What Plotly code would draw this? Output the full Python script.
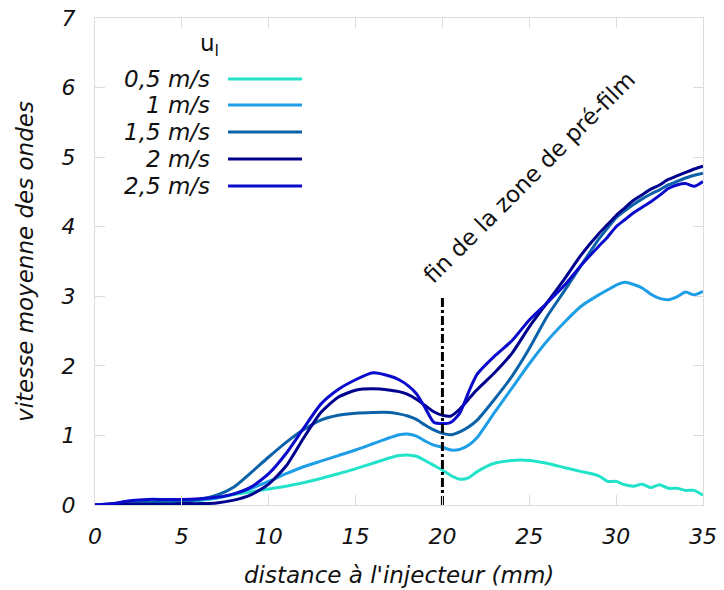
import plotly.graph_objects as go

# ---- data ----
x_mm = [0, 1, 2, 3, 4, 5, 6, 7, 8, 9, 10, 11, 12, 13, 14, 15, 16, 17,
        17.5, 18, 18.5, 19, 19.5, 20, 20.5, 21, 21.5, 22,
        23, 24, 25, 26, 27, 28, 29,
        29.5, 30, 30.5, 31, 31.5, 32, 32.5, 33, 33.5, 34, 34.5, 35]

v_05 = [0, 0.01, 0.03, 0.04, 0.05, 0.06, 0.07, 0.10, 0.15, 0.19, 0.23, 0.27, 0.32, 0.38, 0.45, 0.52, 0.60, 0.68,
        0.71, 0.72, 0.70, 0.64, 0.57, 0.50, 0.42, 0.37, 0.39, 0.48,
        0.60, 0.64, 0.64, 0.60, 0.54, 0.48, 0.42,
        0.34, 0.34, 0.29, 0.27, 0.30, 0.25, 0.29, 0.24, 0.24, 0.21, 0.21, 0.14]

v_1 = [0, 0.01, 0.02, 0.03, 0.04, 0.05, 0.07, 0.10, 0.16, 0.24, 0.34, 0.45, 0.55, 0.63, 0.71, 0.79, 0.88, 0.97,
       1.01, 1.02, 0.99, 0.92, 0.86, 0.83, 0.79, 0.80, 0.86, 0.97,
       1.33, 1.68, 2.03, 2.35, 2.62, 2.86, 3.02,
       3.09, 3.16, 3.20, 3.17, 3.12, 3.03, 2.97, 2.95, 2.99, 3.06, 3.02, 3.07]

v_15 = [0, 0.01, 0.03, 0.04, 0.05, 0.06, 0.08, 0.14, 0.26, 0.47, 0.69, 0.90, 1.08, 1.22, 1.29, 1.32, 1.33, 1.33,
        1.31, 1.28, 1.23, 1.15, 1.08, 1.03, 1.01, 1.05, 1.12, 1.22,
        1.52, 1.85, 2.25, 2.70, 3.07, 3.45, 3.82,
        3.98, 4.13, 4.23, 4.32, 4.40, 4.47, 4.53, 4.60, 4.65, 4.70, 4.74, 4.77]

v_2 = [0, 0.0, 0.01, 0.01, 0.01, 0.02, 0.02, 0.03, 0.07, 0.15, 0.30, 0.56, 0.96, 1.33, 1.55, 1.65, 1.67, 1.65,
       1.63, 1.59, 1.52, 1.43, 1.34, 1.29, 1.28, 1.38, 1.52, 1.66,
       1.90, 2.18, 2.56, 2.90, 3.24, 3.60, 3.90,
       4.03, 4.16, 4.27, 4.38, 4.46, 4.54, 4.60, 4.68, 4.73, 4.78, 4.83, 4.87]

v_25 = [0, 0.02, 0.06, 0.08, 0.08, 0.08, 0.09, 0.11, 0.16, 0.26, 0.45, 0.74, 1.10, 1.45, 1.66, 1.80, 1.90, 1.85,
        1.80, 1.72, 1.60, 1.40, 1.19, 1.17, 1.19, 1.32, 1.62, 1.88,
        2.14, 2.36, 2.66, 2.90, 3.15, 3.45, 3.72,
        3.85, 4.00, 4.10, 4.20, 4.28, 4.36, 4.45, 4.55, 4.60, 4.62, 4.58, 4.65]

series_names = ["0,5 m/s", "1 m/s", "1,5 m/s", "2 m/s", "2,5 m/s"]
series_values = [v_05, v_1, v_15, v_2, v_25]
series_colors = ["#22E3C9", "#1E9EE6", "#0B62A8", "#00008E", "#0A0ACC"]

prefilm_end_x = [20, 20]
prefilm_end_y = [0, 3.02]

x_ticks = [0, 5, 10, 15, 20, 25, 30, 35]
y_ticks = [0, 1, 2, 3, 4, 5, 6, 7]

FONT = "DejaVu Sans"
FS = 23
FT = 22

fig = go.Figure()
for name, vals, col in zip(series_names, series_values, series_colors):
    fig.add_trace(go.Scatter(x=x_mm, y=vals, mode="lines", name=name,
                             line=dict(color=col, width=3, shape="spline", smoothing=0.6),
                             showlegend=False, hoverinfo="skip"))

fig.add_trace(go.Scatter(x=prefilm_end_x, y=prefilm_end_y, mode="lines",
                         line=dict(color="black", width=3, dash="9px,3px,3px,3px"),
                         showlegend=False, hoverinfo="skip"))

# manual legend (text left of line)
leg_y = [0.8747, 0.8214, 0.7659, 0.7105, 0.655]
annotations = [dict(text="u<sub>l</sub>", x=0.189, y=0.9446, xref="paper", yref="paper",
                    showarrow=False, xanchor="center", yanchor="middle",
                    font=dict(family=FONT, size=FS, color="#111"))]
shapes = []
for name, col, yy in zip(series_names, series_colors, leg_y):
    annotations.append(dict(text=name, x=0.1924, y=yy, xref="paper", yref="paper",
                            showarrow=False, xanchor="right", yanchor="middle",
                            font=dict(family=FONT, size=FS, color="#111", style="italic")))
    shapes.append(dict(type="line", xref="paper", yref="paper", x0=0.2188, x1=0.3405,
                       y0=yy, y1=yy, line=dict(color=col, width=3)))

annotations.append(dict(text="fin de la zone de pré-film", x=25.0, y=4.72, xref="x", yref="y",
                        showarrow=False, textangle=-45, xanchor="center", yanchor="middle",
                        font=dict(family=FONT, size=FS, color="#111")))

# axis titles as annotations
annotations.append(dict(text="distance à l'injecteur (mm)", x=0.5, y=-0.143, xref="paper", yref="paper",
                        showarrow=False, xanchor="center", yanchor="middle",
                        font=dict(family=FONT, size=FS, color="#111", style="italic")))
annotations.append(dict(text="vitesse moyenne des ondes", x=-0.116, y=0.5, xref="paper", yref="paper",
                        showarrow=False, xanchor="center", yanchor="middle", textangle=-90,
                        font=dict(family=FONT, size=FS, color="#111", style="italic")))

axis_common = dict(showgrid=False, zeroline=False, showline=True, linecolor="#dcdcdc", linewidth=1,
                   mirror="ticks", ticks="inside", ticklen=10, tickcolor="#dcdcdc", tickwidth=1,
                   automargin=False, ticklabeloverflow="allow",
                   tickfont=dict(family=FONT, size=FT, color="#111", style="italic"))

fig.update_layout(
    width=724, height=590,
    margin=dict(l=95, r=21, t=18, b=85),
    paper_bgcolor="white", plot_bgcolor="white",
    xaxis=dict(range=[0, 35], tickvals=x_ticks, ticklabelstandoff=12, **axis_common),
    yaxis=dict(range=[0, 7], tickvals=y_ticks, ticklabelstandoff=14, **axis_common),
    annotations=annotations,
    shapes=shapes,
)

fig.write_html("out.html", config={"displayModeBar": False},
               post_script="document.body.style.margin='0';document.body.style.overflow='hidden';")
